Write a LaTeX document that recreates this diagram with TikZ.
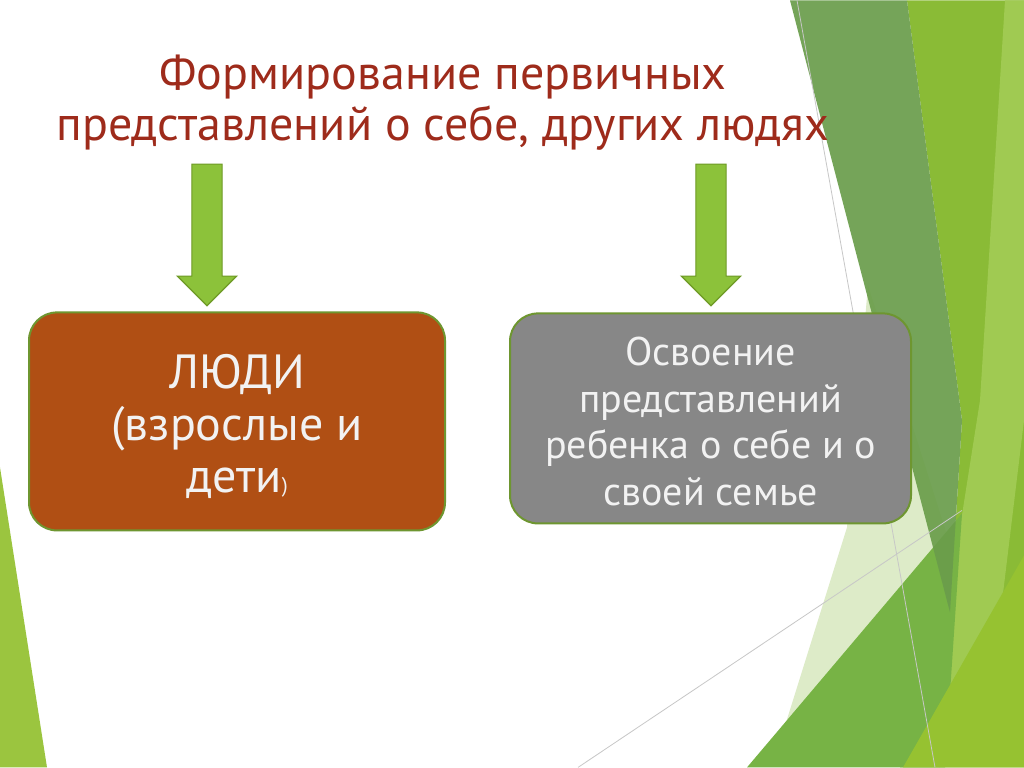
\documentclass[tikz,border=0pt]{standalone}
\usepackage{fontspec}
\setmainfont{PT Sans}
\usetikzlibrary{shapes.arrows,positioning}

\definecolor{titlered}{HTML}{9E2B1B}
\definecolor{boxbrown}{HTML}{B04F14}
\definecolor{boxgray}{HTML}{878787}
\definecolor{rimgreen}{HTML}{6E9630}
\definecolor{arrowfill}{HTML}{8CC23A}
\definecolor{arrowrim}{HTML}{6E9A26}
\definecolor{facetdark}{HTML}{6A9D4B}
\definecolor{facetmid}{HTML}{77B345}
\definecolor{facetlime}{HTML}{8ABB36}
\definecolor{facetlight}{HTML}{A0CA52}
\definecolor{facetpale}{HTML}{DDEBC8}
\definecolor{facetleft}{HTML}{9BC53F}

\begin{document}
\begin{tikzpicture}[x=0.75pt, y=-0.75pt]
    \tikzstyle{block}=[draw=rimgreen, line width=1.5pt, rounded corners=21pt, text=white!95!black, align=center, inner sep=0pt]
    \tikzstyle{downarrow}=[single arrow, shape border rotate=270, fill=arrowfill, draw=arrowrim, line width=0.9pt, minimum height=106.25pt, minimum width=43.5pt, single arrow head extend=10.9pt, inner sep=10.9pt]
    \tikzstyle{facetline}=[draw=black!22, line width=0.6pt]
    % background
    \fill[white] (0,0) rectangle (1024,767);
    \fill[facetleft] (0,467) -- (47,767) -- (0,767) -- cycle;
    \fill[facetpale] (868,285) -- (847,527) -- (782,735) -- (940,767) -- (955,560) -- cycle;
    \fill[facetlime] (907,0) -- (1024,0) -- (1024,767) -- (900,767) -- (950,612) -- (962,420) -- cycle;
    \fill[facetlight] (1005,0) -- (1024,0) -- (1024,420) -- (990,700) -- (945,690) -- (958,540) -- (980,400) -- cycle;
    \fill[facetmid] (747,767) -- (962,513) -- (945,767) -- cycle;
    \fill[facetdark, opacity=0.92] (790,0) -- (907,0) -- (962,420) -- (950,612) -- cycle;
    \fill[facetlime!90!yellow] (903,767) -- (1024,555) -- (1024,767) -- cycle;
    \path[facetline] (797,0) -- (935,767);
    \path[facetline] (578,767) -- (962,510);

    % title
    \node[text=titlered, align=center, font=\fontsize{36}{38.5}\selectfont] (head) at (443,102)
        {Формирование первичных\\представлений о себе, других людях};

    % arrows
    \node[downarrow] (arrL) at (207,227) {};
    \node[downarrow] (arrR) at (711,227) {};

    % boxes
    \node[block, fill=boxbrown, minimum width=312pt, minimum height=163.5pt,
          font=\fontsize{36}{38.8}\selectfont] (people) at (237,421)
        {\rule{0pt}{33pt}ЛЮДИ\\(взрослые и\\дети{\fontsize{16}{16}\selectfont)}};
    \node[block, fill=boxgray, minimum width=300.75pt, minimum height=157.5pt,
          font=\fontsize{30}{35}\selectfont] (self) at (710.5,418)
        {\rule{0pt}{26pt}Освоение\\представлений\\ребенка о себе и о\\своей семье};
\end{tikzpicture}
\end{document}
